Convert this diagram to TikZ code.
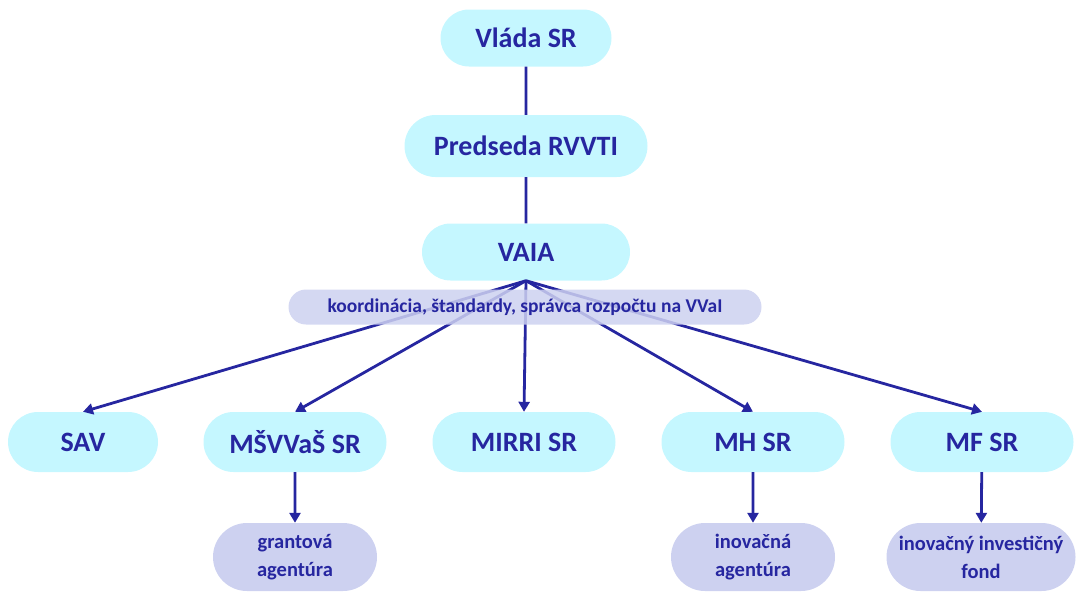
\documentclass[tikz,border=0pt]{standalone}
\usepackage{fontspec}
\setmainfont{Carlito}
\usetikzlibrary{shapes.misc,arrows.meta}
\definecolor{tblue}{RGB}{38,38,160}
\definecolor{pillcyan}{RGB}{197,247,255}
\definecolor{lav}{RGB}{205,209,240}
\tikzset{
  main/.style={rounded rectangle, fill=pillcyan, text=tblue, font=\bfseries\fontsize{28}{32}\selectfont, inner sep=0pt, minimum height=60pt, minimum width=183pt},
  sub/.style={rounded rectangle, fill=lav, text=tblue, font=\bfseries\fontsize{20.5}{28}\selectfont, inner sep=0pt, minimum height=68pt, minimum width=164pt, align=center},
  conn/.style={draw=tblue, line width=2.8pt},
  arr/.style={conn, -{Triangle[length=10pt,width=11pt]}},
}
\begin{document}
\begin{tikzpicture}[x=1pt,y=-1pt]
\useasboundingbox (0,0) rectangle (1076,592);
\node[main, minimum width=171pt, minimum height=57pt] (vlada) at (526,38) {Vláda SR};
\node[main, minimum width=243pt, minimum height=62pt] (pred) at (526,146) {Predseda RVVTI};
\node[main, minimum width=208pt, minimum height=57pt] (vaia) at (526,252) {VAIA};
\node[main, minimum width=150pt] (sav) at (83,442) {SAV};
\node[main] (msv) at (295,442) {MŠVVaŠ SR};
\node[main] (mirri) at (524,442) {MIRRI SR};
\node[main] (mh) at (753,442) {MH SR};
\node[main] (mf) at (982,442) {MF SR};
\node[sub] (grant) at (295,557) {grantová\\agentúra};
\node[sub] (inov) at (753,557) {inovačná\\agentúra};
\node[sub, minimum width=189pt] (fond) at (981,557) {inovačný investičný\\fond};
\draw[conn] (vlada) -- (pred);
\draw[conn] (pred) -- (vaia);
\foreach \t in {sav,msv,mirri,mh,mf}
  \draw[arr] (vaia.south) -- (\t.north);
\node[rounded rectangle, fill=lav, fill opacity=0.85, text opacity=1, text=tblue, font=\bfseries\fontsize{19.5}{22}\selectfont, inner sep=0pt, minimum width=473pt, minimum height=35pt] (bar) at (525,307) {koordinácia, štandardy, správca rozpočtu na VVaI};
\draw[arr] (msv) -- (grant);
\draw[arr] (mh) -- (inov);
\draw[arr] (mf) -- (fond);
\end{tikzpicture}
\end{document}
